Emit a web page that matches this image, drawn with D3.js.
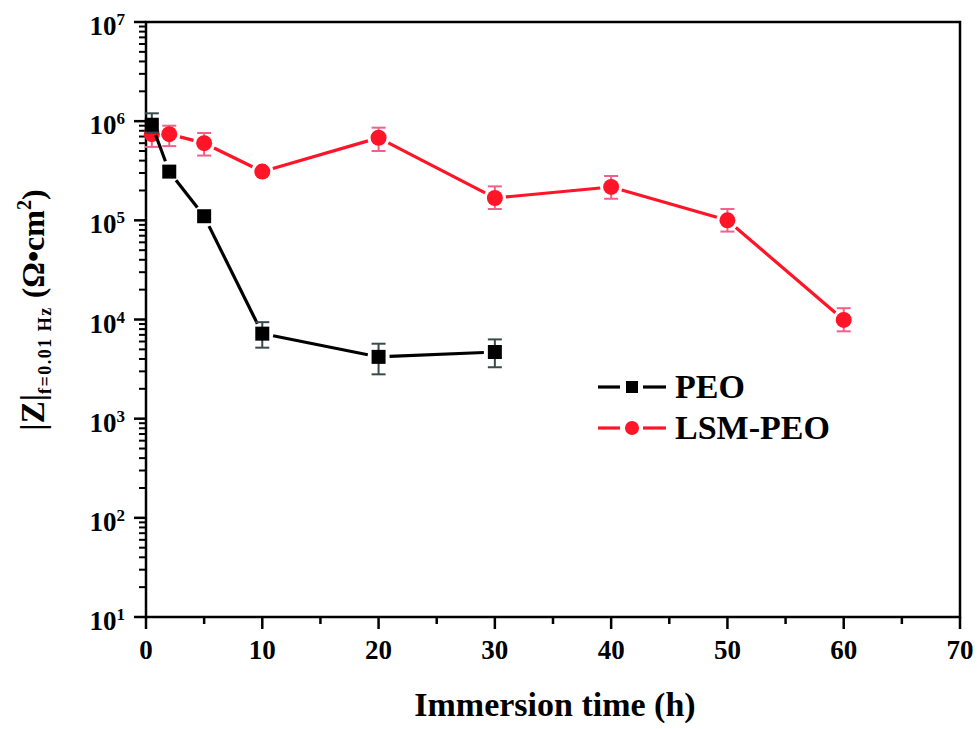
<!DOCTYPE html>
<html>
<head>
<meta charset="utf-8">
<script src="https://cdn.jsdelivr.net/npm/d3@7"></script>
<style>
  body { margin: 0; background: #fff; }
  text { font-family: "Liberation Serif", "Times New Roman", serif; font-weight: bold; }
</style>
</head>
<body>
<div id="chart"></div>
<script>
// immersion time (h)
const peoTime = [0.5, 2, 5, 10, 20, 30];
const peoZ = [9.2e5, 3.1e5, 1.1e5, 7.2e3, 4.2e3, 4.7e3];
const peoErrLow = [7.6e5, 3.1e5, 1.1e5, 5.2e3, 2.8e3, 3.3e3];
const peoErrHigh = [1.2e6, 3.1e5, 1.1e5, 9.4e3, 5.7e3, 6.3e3];

const lsmTime = [0.5, 2, 5, 10, 20, 30, 40, 50, 60];
const lsmZ = [7.4e5, 7.4e5, 6.0e5, 3.1e5, 6.8e5, 1.68e5, 2.17e5, 1.0e5, 9.9e3];
const lsmErrLow = [5.5e5, 5.6e5, 4.5e5, 3.1e5, 5.0e5, 1.3e5, 1.65e5, 0.77e5, 7.6e3];
const lsmErrHigh = [9.3e5, 9.0e5, 7.6e5, 3.1e5, 8.6e5, 2.2e5, 2.8e5, 1.3e5, 1.3e4];

const xTicks = [0, 10, 20, 30, 40, 50, 60, 70];
const yDecades = [1, 2, 3, 4, 5, 6, 7];

const W = 980, H = 729;
const mLeft = 146, mRight = 960, mTop = 22, mBottom = 617;

const svg = d3.select("#chart").append("svg")
  .attr("width", W).attr("height", H);

const x = d3.scaleLinear().domain([0, 70]).range([mLeft, mRight]);
const y = d3.scaleLog().domain([10, 1e7]).range([mBottom, mTop]);

// frame
svg.append("rect")
  .attr("x", mLeft).attr("y", mTop)
  .attr("width", mRight - mLeft).attr("height", mBottom - mTop)
  .attr("fill", "none").attr("stroke", "#000").attr("stroke-width", 2.5);

// x axis
const xAxis = svg.append("g");
const xMinor = d3.range(5, 70, 10);
xAxis.selectAll(".maj").data(xTicks).join("line")
  .attr("x1", d => x(d)).attr("x2", d => x(d))
  .attr("y1", mBottom).attr("y2", mBottom + 12)
  .attr("stroke", "#000").attr("stroke-width", 2.5);
xAxis.selectAll(".min").data(xMinor).join("line")
  .attr("x1", d => x(d)).attr("x2", d => x(d))
  .attr("y1", mBottom).attr("y2", mBottom + 7)
  .attr("stroke", "#000").attr("stroke-width", 2.5);
xAxis.selectAll("text").data(xTicks).join("text")
  .attr("x", d => x(d)).attr("y", mBottom + 42)
  .attr("text-anchor", "middle")
  .attr("font-size", 27)
  .text(d => d);

// y axis (log, with minor ticks)
const yAxis = svg.append("g");
const yMinor = [];
yDecades.slice(0, -1).forEach(e => {
  for (let m = 2; m <= 9; m++) yMinor.push(m * Math.pow(10, e));
});
yAxis.selectAll(".maj").data(yDecades).join("line")
  .attr("x1", mLeft - 12).attr("x2", mLeft)
  .attr("y1", d => y(Math.pow(10, d))).attr("y2", d => y(Math.pow(10, d)))
  .attr("stroke", "#000").attr("stroke-width", 2.5);
yAxis.selectAll(".min").data(yMinor).join("line")
  .attr("x1", mLeft - 7).attr("x2", mLeft)
  .attr("y1", d => y(d)).attr("y2", d => y(d))
  .attr("stroke", "#000").attr("stroke-width", 2);
const yLab = yAxis.selectAll("text").data(yDecades).join("text")
  .attr("x", mLeft - 21).attr("y", d => y(Math.pow(10, d)) + 13)
  .attr("text-anchor", "end")
  .attr("font-size", 27);
yLab.append("tspan").text("10");
yLab.append("tspan").attr("font-size", 17).attr("dy", -10).text(d => d);

// series drawing with Origin-style gaps around markers
function drawSeries(times, vals, lo, hi, color, errColor, shape) {
  const g = svg.append("g");
  const pts = times.map((t, i) => [x(t), y(vals[i])]);
  const gap = 11;
  const segs = d3.pairs(pts).map(([a, b]) => {
    const dx = b[0] - a[0], dy = b[1] - a[1];
    const len = Math.hypot(dx, dy);
    const ux = dx / len, uy = dy / len;
    const g0 = Math.min(gap, len / 2);
    return [a[0] + ux * g0, a[1] + uy * g0, b[0] - ux * g0, b[1] - uy * g0];
  });
  g.selectAll(".seg").data(segs).join("line")
    .attr("x1", d => d[0]).attr("y1", d => d[1])
    .attr("x2", d => d[2]).attr("y2", d => d[3])
    .attr("stroke", color).attr("stroke-width", 3.2);

  // error bars
  const eb = g.selectAll(".eb").data(times.map((t, i) => i).filter(i => hi[i] > vals[i] * 1.02))
    .join("g").attr("stroke", errColor).attr("stroke-width", 2);
  eb.append("line")
    .attr("x1", i => x(times[i])).attr("x2", i => x(times[i]))
    .attr("y1", i => y(hi[i])).attr("y2", i => y(lo[i]));
  eb.append("line")
    .attr("x1", i => x(times[i]) - 7).attr("x2", i => x(times[i]) + 7)
    .attr("y1", i => y(hi[i])).attr("y2", i => y(hi[i]));
  eb.append("line")
    .attr("x1", i => x(times[i]) - 7).attr("x2", i => x(times[i]) + 7)
    .attr("y1", i => y(lo[i])).attr("y2", i => y(lo[i]));

  if (shape === "square") {
    g.selectAll(".mk").data(pts).join("rect")
      .attr("x", d => d[0] - 7).attr("y", d => d[1] - 7)
      .attr("width", 14).attr("height", 14)
      .attr("fill", color);
  } else {
    g.selectAll(".mk").data(pts).join("circle")
      .attr("cx", d => d[0]).attr("cy", d => d[1]).attr("r", 8)
      .attr("fill", color);
  }
}

drawSeries(lsmTime, lsmZ, lsmErrLow, lsmErrHigh, "#ff1428", "#f2608a", "circle");
drawSeries(peoTime, peoZ, peoErrLow, peoErrHigh, "#000", "#3a4a4a", "square");

// legend
const legend = [
  { name: "PEO", color: "#000", shape: "square", y: 387 },
  { name: "LSM-PEO", color: "#ff1428", shape: "circle", y: 428 }
];
const lg = svg.append("g");
legend.forEach(d => {
  lg.append("line").attr("x1", 598).attr("x2", 620).attr("y1", d.y).attr("y2", d.y)
    .attr("stroke", d.color).attr("stroke-width", 3.2);
  lg.append("line").attr("x1", 643).attr("x2", 666).attr("y1", d.y).attr("y2", d.y)
    .attr("stroke", d.color).attr("stroke-width", 3.2);
  if (d.shape === "square") {
    lg.append("rect").attr("x", 626).attr("y", d.y - 6).attr("width", 12).attr("height", 12)
      .attr("fill", d.color);
  } else {
    lg.append("circle").attr("cx", 632).attr("cy", d.y).attr("r", 7).attr("fill", d.color);
  }
  lg.append("text").attr("x", 675).attr("y", d.y + 11)
    .attr("font-size", 34).text(d.name);
});

// x title
svg.append("text")
  .attr("x", 555).attr("y", 716)
  .attr("text-anchor", "middle")
  .attr("font-size", 34)
  .text("Immersion time (h)");

// y title
const yt = svg.append("text")
  .attr("transform", `translate(44, 310) rotate(-90)`)
  .attr("text-anchor", "middle")
  .attr("font-size", 33);
yt.append("tspan").text("|Z|");
yt.append("tspan").attr("font-size", 18).attr("letter-spacing", 1.5).attr("dy", 7).text("f=0.01 Hz");
yt.append("tspan").attr("dy", -7).attr("font-size", 32).text(" (Ω•cm");
yt.append("tspan").attr("font-size", 20).attr("dy", -13).text("2");
yt.append("tspan").attr("font-size", 32).attr("dy", 13).text(")");
</script>
</body>
</html>
